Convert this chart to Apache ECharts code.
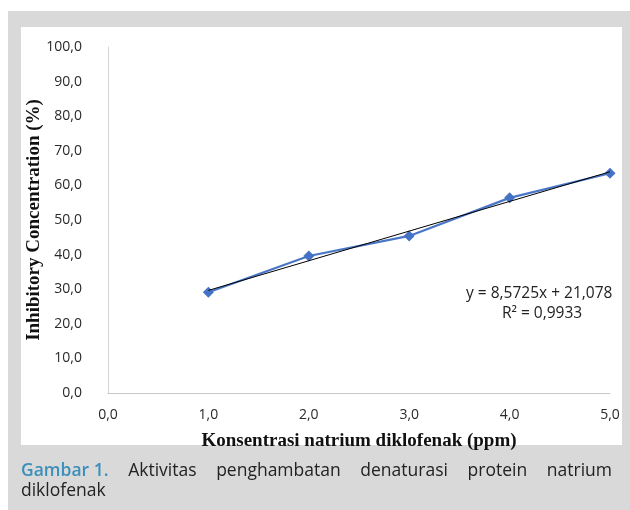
<!DOCTYPE html>
<html><head><meta charset="utf-8">
<script src="https://cdn.jsdelivr.net/npm/echarts@6/dist/echarts.min.js"></script>
<style>html,body{margin:0;padding:0;background:#fff}#c{width:630px;height:510px}</style>
</head><body><div id="c"></div>
<script>
var concentrations = [1.0, 2.0, 3.0, 4.0, 5.0];
var inhibition = [29.1, 39.6, 45.4, 56.4, 63.5];
var trendX = [1.0, 5.0];
var trendSlope = 8.5725, trendIntercept = 21.078;
var equationText = 'y = 8,5725x + 21,078';
var r2Text = 'R² = 0,9933';
var xTitle = 'Konsentrasi natrium diklofenak (ppm)';
var yTitle = 'Inhibitory Concentration (%)';
var captionLabel = 'Gambar 1.';
var captionLine1 = ['Aktivitas', 'penghambatan', 'denaturasi', 'protein', 'natrium'];
var captionLine2 = 'diklofenak';

var fmt = function (v) { return v.toFixed(1).replace('.', ','); };
var chart = echarts.init(document.getElementById('c'));

var capFont = '17.5px "Open Sans"';
var cv = document.createElement('canvas').getContext('2d');
cv.font = '600 ' + capFont;
var words = [{t: captionLabel, w: cv.measureText(captionLabel).width, c: '#3b8fba', fw: 600}];
cv.font = capFont;
captionLine1.forEach(function (w) { words.push({t: w, w: cv.measureText(w).width, c: '#222', fw: 'normal'}); });
var left = 21, right = 612;
var total = words.reduce(function (s, w) { return s + w.w; }, 0);
var gap = (right - left - total) / (words.length - 1);
var gx = left, graphics = [
  {type: 'rect', z: -10, shape: {x: 8, y: 11, width: 622, height: 499}, style: {fill: '#d9d9d9'}, silent: true},
  {type: 'rect', z: -9, shape: {x: 21, y: 27, width: 601, height: 418}, style: {fill: '#ffffff'}, silent: true},
  {type: 'text', left: 466, top: 286, style: {text: equationText, font: '15.5px "Open Sans"', fill: '#222'}},
  {type: 'text', left: 502, top: 306, style: {text: r2Text, font: '15.5px "Open Sans"', fill: '#222'}},
  {type: 'text', left: 21, top: 482, style: {text: captionLine2, font: capFont, fill: '#222'}}
];
words.forEach(function (w) {
  graphics.push({type: 'text', left: gx, top: 462, style: {text: w.t, font: (w.fw === 600 ? '600 ' : '') + capFont, fill: w.c}});
  gx += w.w + gap;
});

chart.setOption({
  animation: false,
  grid: {left: 108, right: 20, top: 47, bottom: 117},
  xAxis: {
    type: 'value', min: 0, max: 5, interval: 1,
    name: xTitle, nameLocation: 'middle', nameGap: 39,
    nameTextStyle: {fontFamily: 'Liberation Serif', fontWeight: 'bold', fontSize: 19, color: '#111'},
    axisLine: {lineStyle: {color: '#c8c8c8'}}, axisTick: {show: false}, splitLine: {show: false},
    axisLabel: {formatter: fmt, fontFamily: 'Open Sans', fontSize: 14, color: '#2a2a2a', margin: 15}
  },
  yAxis: {
    type: 'value', min: 0, max: 100, interval: 10,
    name: yTitle, nameLocation: 'middle', nameGap: 64, nameRotate: 90, nameMoveOverlap: false,
    nameTextStyle: {fontFamily: 'Liberation Serif', fontWeight: 'bold', fontSize: 19, color: '#111'},
    axisLine: {show: true, lineStyle: {color: '#d4d4d4'}}, axisTick: {show: false}, splitLine: {show: false},
    axisLabel: {formatter: fmt, fontFamily: 'Open Sans', fontSize: 14, color: '#2a2a2a', margin: 26}
  },
  graphic: graphics,
  series: [
    {type: 'line', data: trendX.map(function (x) { return [x, trendSlope * x + trendIntercept]; }),
     showSymbol: false, lineStyle: {color: '#000', width: 1}, z: 3},
    {type: 'line', data: concentrations.map(function (x, i) { return [x, inhibition[i]]; }),
     symbol: 'diamond', symbolSize: 11, itemStyle: {color: '#4472c4'},
     lineStyle: {color: '#4a76c6', width: 2.2}, z: 2}
  ]
});
</script></body></html>
